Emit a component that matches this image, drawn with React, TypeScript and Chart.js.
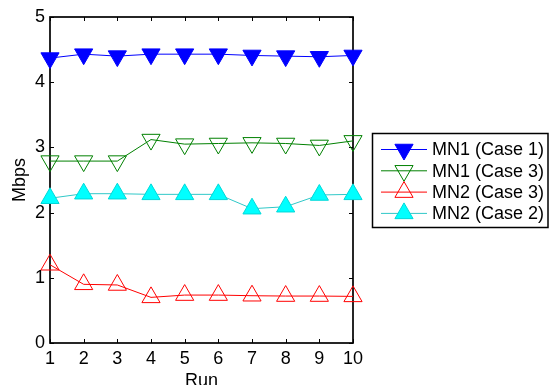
import React, { useEffect, useRef } from 'react';
import { Chart, registerables } from 'chart.js';
import { drawPoint } from 'chart.js/helpers';

Chart.register(...registerables);

const runs = [1, 2, 3, 4, 5, 6, 7, 8, 9, 10];
const mn1Case1 = [4.37, 4.43, 4.4, 4.43, 4.43, 4.43, 4.41, 4.4, 4.39, 4.41];
const mn1Case3 = [2.79, 2.79, 2.79, 3.12, 3.05, 3.06, 3.07, 3.06, 3.03, 3.1];
const mn2Case3 = [1.2, 0.9, 0.89, 0.7, 0.735, 0.735, 0.725, 0.72, 0.72, 0.715];
const mn2Case2 = [2.22, 2.29, 2.29, 2.28, 2.28, 2.28, 2.06, 2.09, 2.27, 2.28];
const yTicks = [0, 1, 2, 3, 4, 5];
const seriesLabels = ['MN1 (Case 1)', 'MN1 (Case 3)', 'MN2 (Case 3)', 'MN2 (Case 2)'];
const xTitle = 'Run';
const yTitle = 'Mbps';

const FONT = '"Liberation Sans", Arial, Helvetica, sans-serif';
const R = 10.5;

const styles = [
  { line: '#0000ff', fill: '#0000ff', edge: '#0000ff', rot: 180 },
  { line: '#008000', fill: 'rgba(0,0,0,0)', edge: '#008000', rot: 180 },
  { line: '#ff0000', fill: 'rgba(0,0,0,0)', edge: '#ff0000', rot: 0 },
  { line: '#30c8c8', fill: '#00ffff', edge: '#00d8d8', rot: 0 },
];
const seriesData = [mn1Case1, mn1Case3, mn2Case3, mn2Case2];

const matlabPlugin = {
  id: 'matlabFrame',
  beforeDatasetsDraw(chart: any) {
    const { ctx, chartArea } = chart;
    const { left, right, top, bottom } = chartArea;
    const xs = chart.scales.x;
    const ys = chart.scales.y;
    ctx.save();
    ctx.strokeStyle = '#000';
    ctx.lineWidth = 1;
    const tl = 4;
    ctx.beginPath();
    runs.forEach((v) => {
      const px = Math.round(xs.getPixelForValue(v)) + 0.5;
      ctx.moveTo(px, bottom);
      ctx.lineTo(px, bottom - tl);
      ctx.moveTo(px, top);
      ctx.lineTo(px, top + tl);
    });
    yTicks.forEach((v) => {
      const py = Math.round(ys.getPixelForValue(v)) + 0.5;
      ctx.moveTo(left, py);
      ctx.lineTo(left + tl, py);
      ctx.moveTo(right, py);
      ctx.lineTo(right - tl, py);
    });
    ctx.stroke();
    ctx.lineWidth = 1.7;
    ctx.strokeRect(left, top, right - left, bottom - top);
    ctx.restore();
  },
  afterDraw(chart: any) {
    const { ctx, chartArea } = chart;
    ctx.save();
    ctx.fillStyle = '#000';
    ctx.font = `18px ${FONT}`;
    // x title
    ctx.textAlign = 'center';
    ctx.textBaseline = 'alphabetic';
    ctx.fillText(xTitle, (chartArea.left + chartArea.right) / 2, 386);
    // y title
    ctx.save();
    ctx.translate(25, (chartArea.top + chartArea.bottom) / 2);
    ctx.rotate(-Math.PI / 2);
    ctx.textAlign = 'center';
    ctx.fillText(yTitle, 0, 0);
    ctx.restore();

    // legend
    const lx = 372.5, ly = 133.5, lw = 175.5, lh = 94;
    ctx.fillStyle = '#fff';
    ctx.fillRect(lx, ly, lw, lh);
    ctx.lineWidth = 1.5;
    ctx.strokeStyle = '#000';
    ctx.strokeRect(lx, ly, lw, lh);
    seriesLabels.forEach((label, i) => {
      const cy = 149.5 + i * 21.3;
      const s = styles[i];
      ctx.strokeStyle = s.line;
      ctx.lineWidth = 1;
      ctx.beginPath();
      ctx.moveTo(381, cy);
      ctx.lineTo(427, cy);
      ctx.stroke();
      ctx.fillStyle = s.fill;
      ctx.strokeStyle = s.edge;
      drawPoint(ctx, { pointStyle: 'triangle', rotation: s.rot, radius: R, borderWidth: 1 } as any, 404, cy);
      ctx.fillStyle = '#000';
      ctx.textAlign = 'left';
      ctx.textBaseline = 'middle';
      ctx.font = `18px ${FONT}`;
      ctx.fillText(label, 432, cy + 1);
    });
    ctx.restore();
  },
};

export default function App() {
  const ref = useRef<HTMLCanvasElement>(null);
  useEffect(() => {
    if (!ref.current) return;
    const chart = new Chart(ref.current, {
      type: 'line',
      data: {
        labels: runs,
        datasets: seriesData.map((d, i) => ({
          label: seriesLabels[i],
          data: d.map((v, j) => ({ x: runs[j], y: v })),
          borderColor: styles[i].line,
          borderWidth: 1,
          backgroundColor: styles[i].fill,
          pointBackgroundColor: styles[i].fill,
          pointBorderColor: styles[i].edge,
          pointBorderWidth: 1,
          pointStyle: 'triangle',
          pointRotation: styles[i].rot,
          pointRadius: R,
          tension: 0,
          fill: false,
          clip: false as any,
          order: seriesData.length - i,
        })),
      },
      options: {
        responsive: false,
        animation: false,
        devicePixelRatio: 1,
        layout: { padding: { left: 0, top: 17, right: 196, bottom: 0 } },
        plugins: { legend: { display: false }, tooltip: { enabled: false } },
        scales: {
          x: {
            type: 'linear',
            min: 1,
            max: 10,
            afterBuildTicks: (s: any) => {
              s.ticks = runs.map((v) => ({ value: v }));
            },
            afterFit: (s: any) => {
              s.height = 42;
            },
            grid: { display: false, drawTicks: false },
            border: { display: false },
            ticks: {
              color: '#000',
              font: { family: FONT, size: 18 },
              padding: 5,
              maxRotation: 0,
              autoSkip: false,
              callback: (v: any) => String(v),
            },
          },
          y: {
            type: 'linear',
            min: 0,
            max: 5,
            afterBuildTicks: (s: any) => {
              s.ticks = yTicks.map((v) => ({ value: v }));
            },
            afterFit: (s: any) => {
              s.width = 50;
            },
            grid: { display: false, drawTicks: false },
            border: { display: false },
            ticks: {
              color: '#000',
              font: { family: FONT, size: 18 },
              padding: 5,
              callback: (v: any) => String(v),
            },
          },
        },
      },
      plugins: [matlabPlugin],
    });
    return () => chart.destroy();
  }, []);
  return (
    <div style={{ position: 'fixed', left: 0, top: 0, width: 549, height: 385, background: '#fff' }}>
      <canvas ref={ref} width={549} height={385} style={{ display: 'block' }} />
    </div>
  );
}
